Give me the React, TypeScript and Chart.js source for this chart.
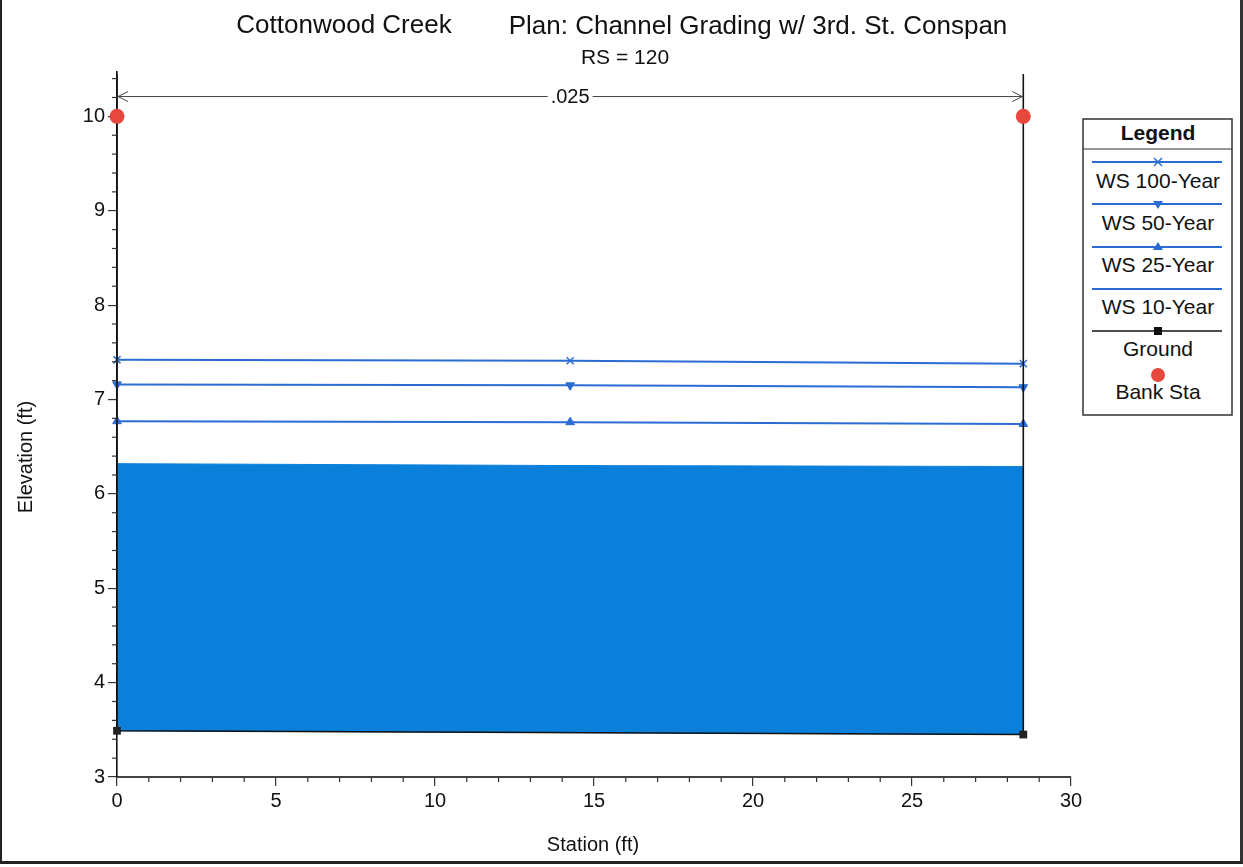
import React, { useEffect, useRef } from "react";
import { Chart, registerables } from "chart.js";

Chart.register(...registerables);

// ---- data ----
const stations = [0, 14.25, 28.5];
const ws100 = [7.42, 7.41, 7.38];
const ws50 = [7.16, 7.15, 7.13];
const ws25 = [6.77, 6.76, 6.74];
const ws10 = [6.32, 6.3, 6.29];
const groundStations = [0, 0, 28.5, 28.5];
const groundElev = [10.45, 3.49, 3.45, 10.45];
const bankStations = [0, 28.5];
const bankElev = [10.0, 10.0];
const xTicks = [0, 5, 10, 15, 20, 25, 30];
const yTicks = [3, 4, 5, 6, 7, 8, 9, 10];
const manningN = [".025"];
const manningStations = [0, 28.5];
const manningElev = 10.21;

const FONT = '"Liberation Sans", Arial, sans-serif';
const WS_BLUE = "#2b6cd4";
const FILL_BLUE = "#0b80db";
const BANK_RED = "#e8473e";

const pts = (xs: number[], ys: number[]) => xs.map((x, i) => ({ x, y: ys[i] }));

const overlayPlugin = {
  id: "overlay",
  afterDraw(chart: any) {
    const { ctx, scales, chartArea } = chart;
    const xs = scales.x;
    const ys = scales.y;
    ctx.save();
    // minor ticks
    ctx.strokeStyle = "#333";
    ctx.lineWidth = 1.2;
    for (let i = 0; i <= 30; i++) {
      if (i % 5 === 0) continue;
      const px = xs.getPixelForValue(i);
      ctx.beginPath();
      ctx.moveTo(px, chartArea.bottom);
      ctx.lineTo(px, chartArea.bottom + 5);
      ctx.stroke();
    }
    for (let v = 3; v <= 10.41; v += 0.2) {
      const r = Math.round(v * 10) / 10;
      if (Math.abs(r - Math.round(r)) < 1e-6) continue;
      const py = ys.getPixelForValue(r);
      ctx.beginPath();
      ctx.moveTo(chartArea.left - 5, py);
      ctx.lineTo(chartArea.left, py);
      ctx.stroke();
    }
    // Manning's n annotation
    const ay = ys.getPixelForValue(manningElev);
    const ax0 = xs.getPixelForValue(manningStations[0]);
    const ax1 = xs.getPixelForValue(manningStations[1]);
    ctx.strokeStyle = "#444";
    ctx.lineWidth = 1;
    ctx.beginPath();
    ctx.moveTo(ax0, ay);
    ctx.lineTo(ax1, ay);
    ctx.moveTo(ax0 + 11, ay - 5);
    ctx.lineTo(ax0 + 1, ay);
    ctx.lineTo(ax0 + 11, ay + 5);
    ctx.moveTo(ax1 - 11, ay - 5);
    ctx.lineTo(ax1 - 1, ay);
    ctx.lineTo(ax1 - 11, ay + 5);
    ctx.stroke();
    ctx.font = `20px ${FONT}`;
    const label = manningN[0];
    const tw = ctx.measureText(label).width;
    const cx = (ax0 + ax1) / 2;
    ctx.fillStyle = "#fff";
    ctx.fillRect(cx - tw / 2 - 3, ay - 10, tw + 6, 20);
    ctx.fillStyle = "#111";
    ctx.textAlign = "center";
    ctx.textBaseline = "middle";
    ctx.fillText(label, cx, ay + 1);
    // titles
    ctx.font = `26px ${FONT}`;
    ctx.fillText("Cottonwood Creek", 344, 26);
    ctx.fillText("Plan: Channel Grading w/ 3rd. St. Conspan", 758, 27);
    ctx.font = `21px ${FONT}`;
    ctx.fillText("RS = 120", 625, 58);
    // axis titles
    ctx.font = `20px ${FONT}`;
    ctx.fillText("Station (ft)", 593, 845);
    ctx.translate(26, 457);
    ctx.rotate(-Math.PI / 2);
    ctx.fillText("Elevation (ft)", 0, 0);
    ctx.restore();
  },
};

function Legend() {
  const items = [
    { label: "WS 100-Year", ly: 162, ty: 182, color: WS_BLUE, marker: "x" },
    { label: "WS 50-Year", ly: 204, ty: 224, color: WS_BLUE, marker: "down" },
    { label: "WS 25-Year", ly: 247, ty: 266, color: WS_BLUE, marker: "up" },
    { label: "WS 10-Year", ly: 289, ty: 308, color: WS_BLUE, marker: "none" },
    { label: "Ground", ly: 331, ty: 350, color: "#111", marker: "rect" },
  ];
  const mx = 1158;
  return (
    <svg
      width={1243}
      height={867}
      style={{ position: "absolute", left: 0, top: 0, pointerEvents: "none" }}
    >
      <rect x={1083} y={119} width={149} height={296} fill="#fff" stroke="#333" strokeWidth={1.5} />
      <text
        x={mx}
        y={134}
        textAnchor="middle"
        dominantBaseline="middle"
        fontFamily={FONT}
        fontSize={21}
        fontWeight="bold"
        fill="#111"
      >
        Legend
      </text>
      <line x1={1083} y1={149} x2={1232} y2={149} stroke="#333" strokeWidth={1.2} />
      {items.map((it) => (
        <g key={it.label}>
          <line x1={1092} y1={it.ly} x2={1222} y2={it.ly} stroke={it.color} strokeWidth={it.marker === "rect" ? 1.5 : 2} />
          {it.marker === "x" && (
            <path d={`M${mx - 4} ${it.ly - 4} L${mx + 4} ${it.ly + 4} M${mx - 4} ${it.ly + 4} L${mx + 4} ${it.ly - 4}`} stroke={it.color} strokeWidth={1.5} />
          )}
          {it.marker === "down" && (
            <polygon points={`${mx - 5},${it.ly - 3} ${mx + 5},${it.ly - 3} ${mx},${it.ly + 5}`} fill={it.color} />
          )}
          {it.marker === "up" && (
            <polygon points={`${mx - 5},${it.ly + 3} ${mx + 5},${it.ly + 3} ${mx},${it.ly - 5}`} fill={it.color} />
          )}
          {it.marker === "rect" && <rect x={mx - 4} y={it.ly - 4} width={8} height={8} fill="#111" />}
          <text
            x={mx}
            y={it.ty}
            textAnchor="middle"
            dominantBaseline="middle"
            fontFamily={FONT}
            fontSize={21}
            fill="#111"
          >
            {it.label}
          </text>
        </g>
      ))}
      <circle cx={mx} cy={375} r={7} fill={BANK_RED} />
      <text x={mx} y={393} textAnchor="middle" dominantBaseline="middle" fontFamily={FONT} fontSize={21} fill="#111">
        Bank Sta
      </text>
    </svg>
  );
}

export default function App() {
  const canvasRef = useRef<HTMLCanvasElement | null>(null);

  useEffect(() => {
    if (!canvasRef.current) return;
    const ws10Polygon = [
      ...pts(stations, ws10),
      { x: groundStations[2], y: groundElev[2] },
      { x: groundStations[1], y: groundElev[1] },
    ];
    const chart = new Chart(canvasRef.current, {
      type: "scatter",
      data: {
        datasets: [
          {
            label: "Bank Sta",
            data: pts(bankStations, bankElev),
            showLine: false,
            pointRadius: 7.5,
            pointBackgroundColor: BANK_RED,
            pointBorderWidth: 0,
            clip: false,
          } as any,
          {
            label: "Ground",
            data: pts(groundStations, groundElev),
            showLine: true,
            borderColor: "#111",
            borderWidth: 1.6,
            pointStyle: "rect",
            pointRadius: (c: any) => (c.dataIndex === 1 || c.dataIndex === 2 ? 5.5 : 0),
            pointBackgroundColor: "#222",
            pointBorderColor: "#222",
            pointBorderWidth: 0,
            clip: false,
          },
          {
            label: "WS 100-Year",
            data: pts(stations, ws100),
            showLine: true,
            borderColor: WS_BLUE,
            borderWidth: 2,
            pointStyle: "crossRot",
            pointRadius: 5,
            pointBorderColor: WS_BLUE,
            pointBorderWidth: 1.5,
            clip: false,
          },
          {
            label: "WS 50-Year",
            data: pts(stations, ws50),
            showLine: true,
            borderColor: WS_BLUE,
            borderWidth: 2,
            pointStyle: "triangle",
            rotation: 180,
            pointRadius: 5,
            pointBackgroundColor: WS_BLUE,
            pointBorderColor: WS_BLUE,
            pointBorderWidth: 1,
            clip: false,
          } as any,
          {
            label: "WS 25-Year",
            data: pts(stations, ws25),
            showLine: true,
            borderColor: WS_BLUE,
            borderWidth: 2,
            pointStyle: "triangle",
            pointRadius: 5,
            pointBackgroundColor: WS_BLUE,
            pointBorderColor: WS_BLUE,
            pointBorderWidth: 1,
            clip: false,
          },
          {
            label: "WS 10-Year",
            data: ws10Polygon,
            showLine: true,
            borderColor: FILL_BLUE,
            borderWidth: 1,
            backgroundColor: FILL_BLUE,
            fill: "shape",
            pointRadius: 0,
            clip: false,
          } as any,
        ],
      },
      options: {
        responsive: false,
        animation: false,
        events: [],
        layout: { padding: { left: 0, top: 72, right: 172, bottom: 0 } },
        plugins: { legend: { display: false }, tooltip: { enabled: false } },
        scales: {
          x: {
            type: "linear",
            min: 0,
            max: 30,
            afterBuildTicks: (s: any) => {
              s.ticks = xTicks.map((v) => ({ value: v }));
            },
            afterFit: (s: any) => {
              s.height = 90;
            },
            grid: {
              display: true,
              drawOnChartArea: false,
              drawTicks: true,
              tickLength: 9,
              color: "#333",
              lineWidth: 1.2,
            },
            border: { display: true, color: "#444", width: 2 },
            ticks: {
              color: "#111",
              font: { family: FONT, size: 20 },
              padding: 3,
              maxRotation: 0,
              autoSkip: false,
            },
          },
          y: {
            type: "linear",
            min: 3,
            max: 10.47,
            afterBuildTicks: (s: any) => {
              s.ticks = yTicks.map((v) => ({ value: v }));
            },
            afterFit: (s: any) => {
              s.width = 117;
            },
            grid: {
              display: true,
              drawOnChartArea: false,
              drawTicks: true,
              tickLength: 9,
              color: "#333",
              lineWidth: 1.2,
            },
            border: { display: true, color: "#111", width: 1.6 },
            ticks: {
              color: "#111",
              font: { family: FONT, size: 20 },
              padding: 3,
              autoSkip: false,
            },
          },
        },
      },
      plugins: [overlayPlugin],
    } as any);
    return () => chart.destroy();
  }, []);

  return (
    <div
      style={{
        position: "fixed",
        left: 0,
        top: 0,
        width: 1243,
        height: 867,
        background: "#fff",
        overflow: "hidden",
      }}
    >
      <canvas ref={canvasRef} width={1243} height={867} style={{ position: "absolute", left: 0, top: 0 }} />
      <Legend />
      <div
        style={{
          position: "absolute",
          left: 0,
          top: 0,
          width: 1243,
          height: 864,
          boxSizing: "border-box",
          borderLeft: "2px solid #222",
          borderRight: "3px solid #333",
          borderBottom: "3px solid #222",
          pointerEvents: "none",
        }}
      />
    </div>
  );
}
